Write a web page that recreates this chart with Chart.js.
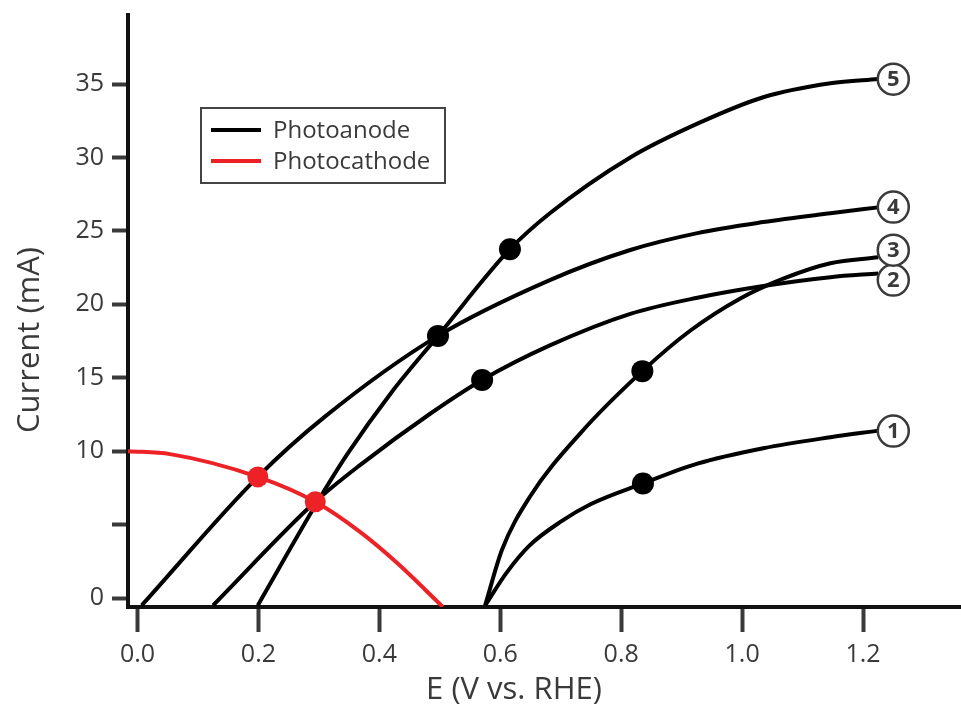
<!DOCTYPE html>
<html>
<head>
<meta charset="utf-8">
<script src="https://cdn.jsdelivr.net/npm/chart.js@4.4.0/dist/chart.umd.min.js"></script>
<style>
  html, body { margin: 0; padding: 0; background: #fff; }
</style>
</head>
<body>
<canvas id="jv_chart" width="961" height="709"></canvas>
<script>
// values: E in V vs. RHE, current in mA
const curve1_E = [0.575, 0.610, 0.649, 0.700, 0.750, 0.836, 0.926, 1.035, 1.146, 1.225];
const curve1_J = [-0.5, 1.7, 3.6, 5.2, 6.4, 7.8, 9.15, 10.2, 10.95, 11.4];

const curve2_E = [0.125, 0.294, 0.368, 0.484, 0.570, 0.682, 0.815, 0.926, 1.035, 1.146, 1.225];
const curve2_J = [-0.5, 6.55, 9.05, 12.55, 14.85, 17.2, 19.35, 20.45, 21.25, 21.85, 22.1];

const curve3_E = [0.575, 0.603, 0.649, 0.732, 0.835, 0.914, 0.997, 1.068, 1.146, 1.225];
const curve3_J = [-0.5, 3.3, 6.9, 11.2, 15.45, 18.2, 20.4, 21.75, 22.8, 23.2];

const curve4_E = [0.007, 0.199, 0.310, 0.497, 0.682, 0.815, 0.926, 1.035, 1.146, 1.225];
const curve4_J = [-0.5, 8.25, 12.35, 17.85, 21.65, 23.7, 24.85, 25.6, 26.2, 26.6];

const curve5_E = [0.199, 0.297, 0.347, 0.420, 0.497, 0.616, 0.682, 0.815, 0.926, 1.035, 1.146, 1.225];
const curve5_J = [-0.5, 6.5, 9.8, 14.0, 17.85, 23.75, 26.2, 30.0, 32.3, 34.1, 35.05, 35.35];

const cathode_E = [-0.016, 0.054, 0.199, 0.294, 0.368, 0.429, 0.505];
const cathode_J = [10.0, 9.8, 8.25, 6.55, 4.5, 2.4, -0.6];

const anode_dot_E = [0.497, 0.570, 0.616, 0.835, 0.836];
const anode_dot_J = [17.85, 14.85, 23.75, 15.45, 7.8];

const cathode_dot_E = [0.199, 0.294];
const cathode_dot_J = [8.25, 6.55];

const curve_names = ['1', '2', '3', '4', '5'];
const curve_label_E = 1.25;
const curve_label_J = [11.37, 21.65, 23.69, 26.62, 35.33];

const legend_labels = ['Photoanode', 'Photocathode'];

const x_ticks = [0, 0.2, 0.4, 0.6, 0.8, 1.0, 1.2];
const y_ticks = [0, 5, 10, 15, 20, 25, 30, 35];
const y_tick_labels = ['0', '', '10', '15', '20', '25', '30', '35'];

const font_family = '"Open Sans", "Noto Sans", sans-serif';
const text_color = '#3a3a3a';
const anode_color = '#000000';
const cathode_color = '#ec2227';

const zip = (xs, ys) => xs.map((x, i) => ({x: x, y: ys[i]}));

const curve_line = (xs, ys, color) => ({
	data: zip(xs, ys),
	borderColor: color,
	borderWidth: 4,
	pointRadius: 0,
	fill: false,
	cubicInterpolationMode: 'monotone',
	order: 2
});

const jv_extras = {
	id: 'jv_extras',
	afterDraw(chart) {
		const ctx = chart.ctx;
		const xs = chart.scales.x;
		const ys = chart.scales.y;
		ctx.save();

		// circled curve numbers
		curve_names.forEach((name, i) => {
			const cx = xs.getPixelForValue(curve_label_E);
			const cy = ys.getPixelForValue(curve_label_J[i]);
			ctx.beginPath();
			ctx.arc(cx, cy, 15.5, 0, Math.PI * 2);
			ctx.fillStyle = '#ffffff';
			ctx.fill();
			ctx.lineWidth = 2.5;
			ctx.strokeStyle = text_color;
			ctx.stroke();
			ctx.fillStyle = text_color;
			ctx.font = 'bold 22px ' + font_family;
			ctx.textAlign = 'center';
			ctx.textBaseline = 'middle';
			ctx.fillText(name, cx, cy + 1);
		});

		// legend box
		const lx = chart.chartArea.left + 73;
		const ly = chart.chartArea.top + 93;
		ctx.lineWidth = 2;
		ctx.strokeStyle = '#444444';
		ctx.strokeRect(lx, ly, 244, 75);
		[anode_color, cathode_color].forEach((color, i) => {
			const y = ly + 22 + i * 31;
			ctx.beginPath();
			ctx.moveTo(lx + 10, y);
			ctx.lineTo(lx + 60, y);
			ctx.lineWidth = 4;
			ctx.strokeStyle = color;
			ctx.stroke();
			ctx.fillStyle = text_color;
			ctx.font = '24px ' + font_family;
			ctx.textAlign = 'left';
			ctx.textBaseline = 'middle';
			ctx.fillText(legend_labels[i], lx + 72, y + 1);
		});

		// axis titles
		ctx.fillStyle = text_color;
		ctx.font = '31px ' + font_family;
		ctx.textAlign = 'center';
		ctx.textBaseline = 'middle';
		ctx.fillText('E (V vs. RHE)', 514, 690);
		ctx.translate(30, 340);
		ctx.rotate(-Math.PI / 2);
		ctx.fillText('Current (mA)', 0, 0);
		ctx.restore();
	}
};

const jv_chart = new Chart(
	document.getElementById('jv_chart').getContext('2d'),
	{
		type: 'line',
		data: {
			datasets: [
				{
					data: zip(cathode_dot_E, cathode_dot_J),
					showLine: false,
					pointRadius: 10.5,
					pointBackgroundColor: cathode_color,
					pointBorderWidth: 0,
					order: 0
				},
				{
					data: zip(anode_dot_E, anode_dot_J),
					showLine: false,
					pointRadius: 11,
					pointBackgroundColor: anode_color,
					pointBorderWidth: 0,
					order: 0
				},
				Object.assign(curve_line(cathode_E, cathode_J, cathode_color), {order: 1}),
				curve_line(curve1_E, curve1_J, anode_color),
				curve_line(curve2_E, curve2_J, anode_color),
				curve_line(curve3_E, curve3_J, anode_color),
				curve_line(curve4_E, curve4_J, anode_color),
				curve_line(curve5_E, curve5_J, anode_color)
			]
		},
		options: {
			responsive: false,
			animation: false,
			events: [],
			layout: {
				autoPadding: false,
				padding: {top: 15, left: 0, right: 0, bottom: 0}
			},
			plugins: {
				legend: {display: false},
				tooltip: {enabled: false}
			},
			scales: {
				x: {
					type: 'linear',
					min: -0.0157,
					max: 1.362,
					afterBuildTicks: (scale) => { scale.ticks = x_ticks.map(v => ({value: v})); },
					afterFit: (scale) => { scale.height = 102; },
					border: {color: '#111111', width: 4},
					grid: {drawOnChartArea: false, tickLength: 25, tickWidth: 4, tickColor: '#3a3a3a'},
					ticks: {
						color: text_color,
						font: {family: font_family, size: 25},
						padding: 8,
						maxRotation: 0,
						autoSkip: false,
						callback: (value) => Number(value).toFixed(1)
					}
				},
				y: {
					type: 'linear',
					min: -0.61,
					max: 39.7,
					afterBuildTicks: (scale) => { scale.ticks = y_ticks.map(v => ({value: v})); },
					afterFit: (scale) => {
						scale.width = 128;
						scale.paddingTop = 0;
						scale.paddingBottom = 0;
					},
					border: {color: '#111111', width: 4},
					grid: {drawOnChartArea: false, tickLength: 16, tickWidth: 4, tickColor: '#3a3a3a'},
					ticks: {
						color: text_color,
						font: {family: font_family, size: 25},
						padding: 8,
						autoSkip: false,
						callback: (value, index) => y_tick_labels[index]
					}
				}
			}
		},
		plugins: [jv_extras]
	}
);
</script>
</body>
</html>
